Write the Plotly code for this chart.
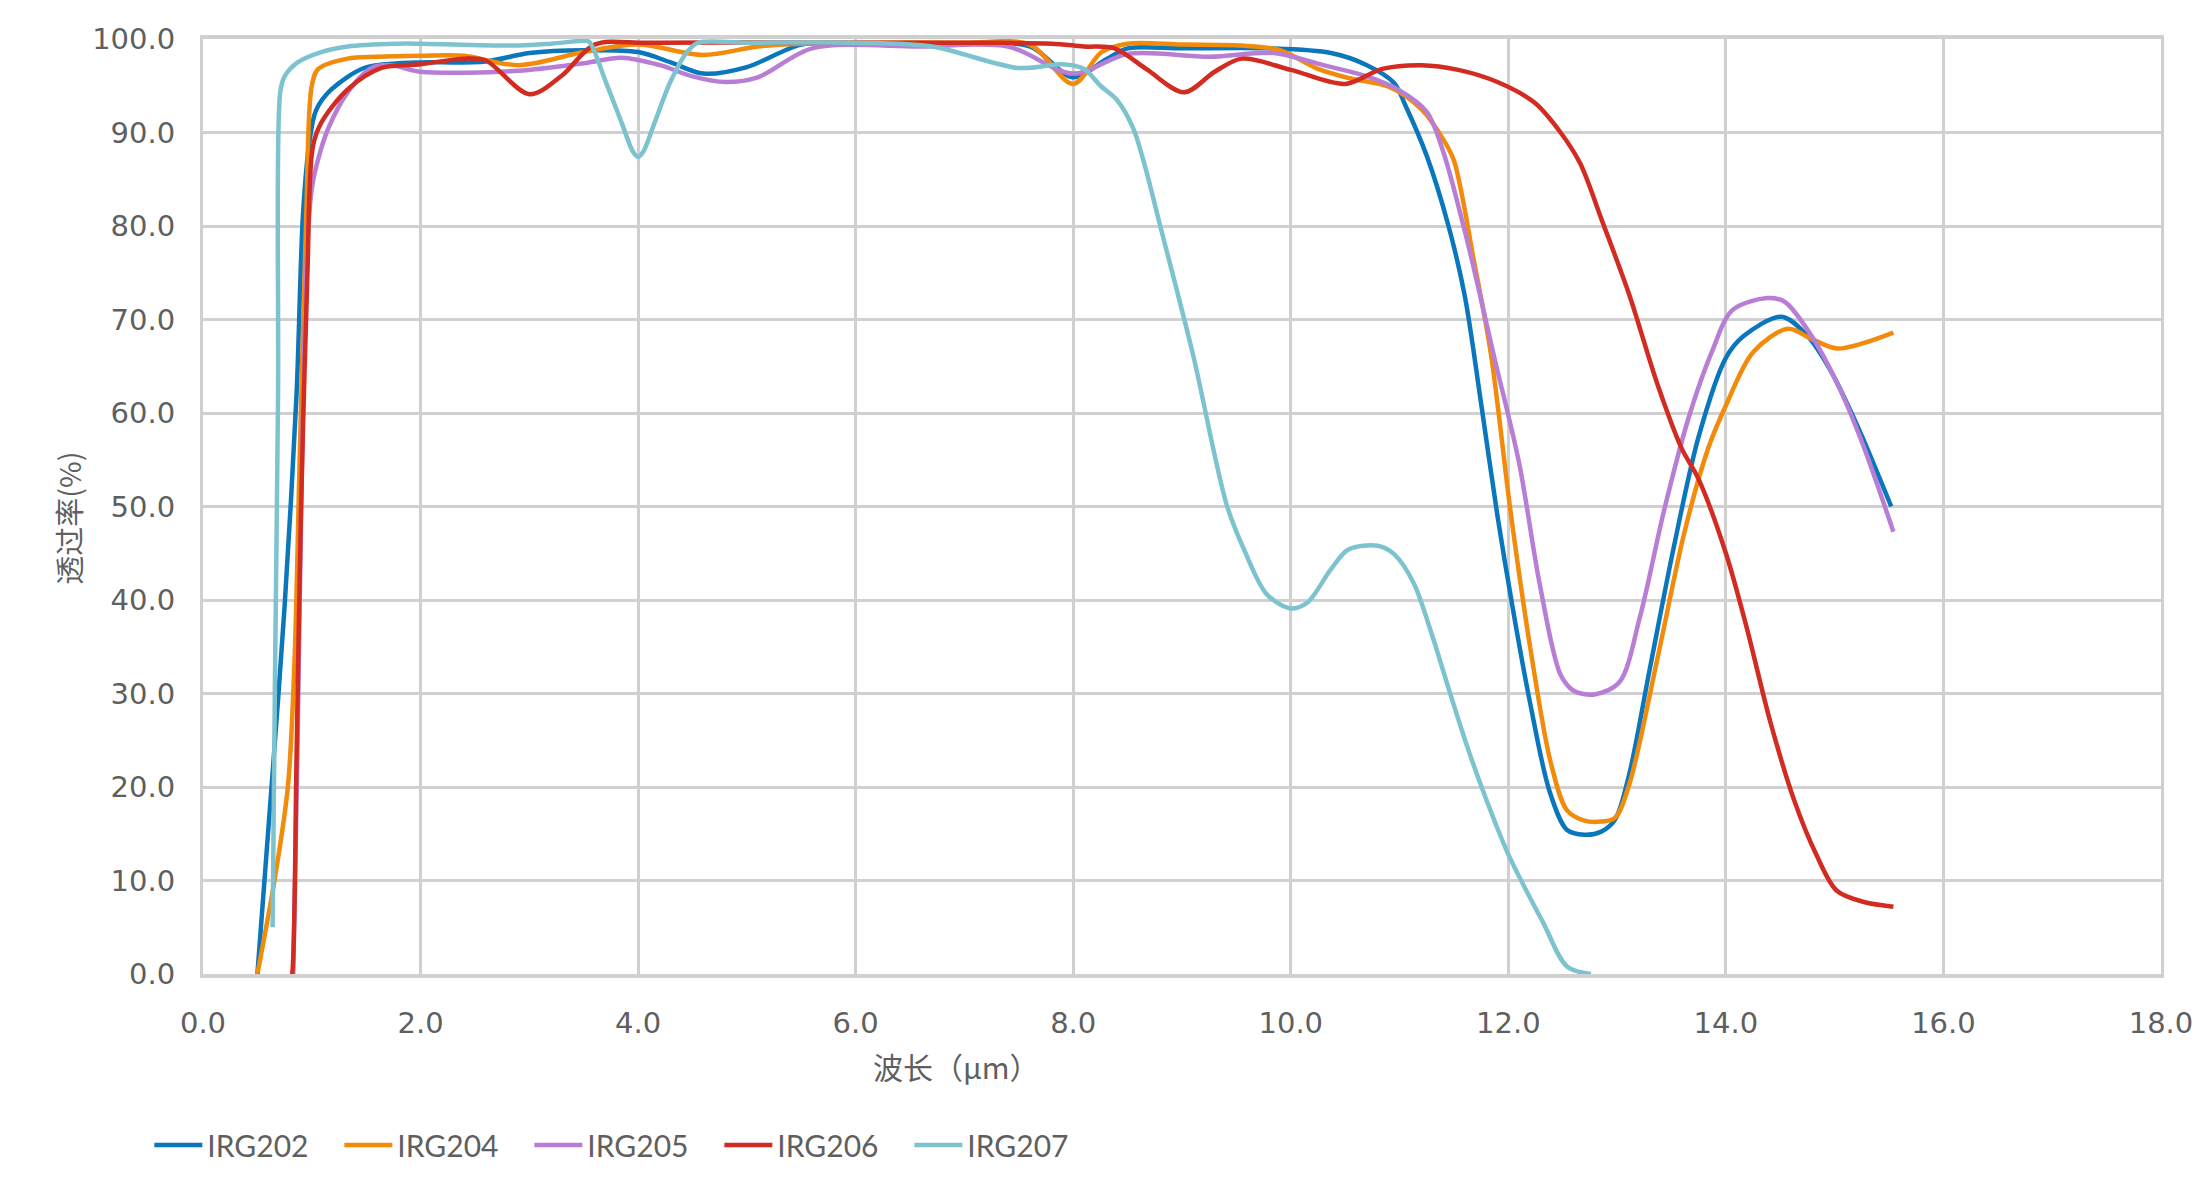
import plotly.graph_objects as go

series_names = ["IRG202", "IRG204", "IRG205", "IRG206", "IRG207"]
series_colors = ["#0A77BD", "#F28A0A", "#B87ED6", "#D22B21", "#7DC3CF"]

irg202_x = [0.50, 0.63, 0.75, 0.86, 0.92, 0.98, 1.04, 1.18, 1.48, 1.8, 2.0, 2.6, 3.0, 3.5, 4.0, 4.3, 4.6, 5.0, 5.5, 6.0,
            7.0, 7.6, 8.0, 8.3, 8.5, 9.0, 9.8, 10.37, 10.7, 10.95, 11.05, 11.25, 11.45, 11.6, 11.75, 11.9, 12.05, 12.2,
            12.38, 12.54, 12.7, 12.85, 12.98, 13.11, 13.3, 13.52, 13.75, 14.0, 14.16, 14.51, 14.73, 14.95, 15.21, 15.52]
irg202_y = [0, 20, 39.3, 62, 81.4, 89.1, 92.4, 94.6, 96.9, 97.4, 97.5, 97.6, 98.5, 98.8, 98.6, 97.5, 96.3, 97.0, 99.4, 99.5,
            99.5, 99.2, 95.9, 97.8, 99.0, 99.0, 99.0, 98.5, 97.2, 95.3, 93.0, 87.5, 80.0, 72.5, 61.0, 49.0, 38.5, 29.0,
            19.5, 15.4, 14.9, 15.2, 16.5, 21.3, 32.6, 45.6, 57.5, 65.9, 68.2, 70.3, 68.5, 64.8, 58.6, 50.0]

irg204_x = [0.50, 0.66, 0.78, 0.84, 0.89, 0.95, 1.0, 1.06, 1.33, 1.6, 2.0, 2.4, 2.9, 3.5, 4.0, 4.6, 5.1, 5.5, 6.0, 7.0,
            7.6, 8.0, 8.26, 8.5, 9.0, 9.55, 9.9, 10.25, 10.54, 10.9, 11.2, 11.4, 11.5, 11.68, 11.84, 12.02, 12.2, 12.39,
            12.54, 12.7, 12.85, 12.98, 13.11, 13.37, 13.62, 13.84, 14.0, 14.25, 14.57, 14.79, 15.02, 15.27, 15.54]
irg204_y = [0, 10.2, 20, 33, 55.6, 81.4, 95.0, 96.8, 97.9, 98.1, 98.2, 98.2, 97.2, 98.6, 99.4, 98.3, 99.2, 99.5, 99.6, 99.6,
            99.4, 95.2, 98.6, 99.5, 99.4, 99.3, 98.8, 96.8, 95.8, 94.9, 92.5, 89.3, 87.0, 76.5, 66.3, 49.5, 35.0, 22.6,
            17.5, 16.4, 16.3, 16.7, 20.2, 33.7, 47.3, 56.3, 60.8, 66.5, 69.0, 67.9, 66.9, 67.5, 68.6]

irg205_x = [0.83, 0.87, 0.91, 0.96, 1.0, 1.06, 1.15, 1.33, 1.55, 1.73, 2.0, 2.9, 3.5, 3.85, 4.2, 4.5, 4.8, 5.1, 5.6, 6.6,
            7.4, 8.0, 8.5, 9.26, 9.84, 10.3, 10.7, 11.0, 11.25, 11.4, 11.62, 11.87, 12.1, 12.29, 12.48, 12.6, 12.79, 13.02,
            13.21, 13.43, 13.65, 13.87, 14.06, 14.38, 14.54, 14.79, 15.05, 15.27, 15.54]
irg205_y = [0, 25, 55, 78, 84.0, 87.2, 90.4, 94.3, 96.9, 97.2, 96.5, 96.6, 97.4, 98.0, 97.2, 96.0, 95.4, 95.9, 99.0, 99.2,
            99.2, 96.3, 98.4, 98.1, 98.5, 97.2, 96.0, 94.5, 92.2, 88.0, 78.5, 66.0, 54.6, 41.6, 32.0, 30.3, 29.9, 31.2,
            38.2, 49.5, 59.2, 66.5, 71.0, 72.3, 71.9, 68.2, 62.5, 56.3, 47.3]

irg206_x = [0.50, 0.55, 0.80, 0.82, 0.86, 0.90, 0.96, 1.01, 1.09, 1.33, 1.64, 2.0, 2.4, 2.6, 3.0, 3.3, 3.6, 4.1, 6.0, 7.2,
            7.8, 8.1, 8.38, 8.67, 9.02, 9.3, 9.55, 10.0, 10.5, 10.84, 11.2, 11.54, 11.9, 12.24, 12.48, 12.66, 12.86, 13.11,
            13.37, 13.59, 13.75, 14.0, 14.19, 14.41, 14.63, 14.83, 15.02, 15.27, 15.54]
irg206_y = [0, -1, -1, 0, 23.2, 49.1, 75.0, 88.5, 91.1, 94.6, 96.9, 97.3, 97.9, 97.7, 94.1, 96.1, 99.4, 99.6, 99.6, 99.6,
            99.5, 99.2, 99.0, 96.8, 94.3, 96.5, 97.9, 96.7, 95.2, 96.8, 97.2, 96.7, 95.4, 93.2, 90.0, 86.7, 80.6, 72.7,
            63.1, 56.3, 52.9, 45.0, 37.1, 26.9, 18.5, 12.8, 8.9, 7.7, 7.2]

irg207_x = [0.64, 0.66, 0.69, 0.71, 0.75, 0.87, 1.06, 1.33, 1.79, 2.0, 2.9, 3.2, 3.5, 3.55, 3.7, 3.85, 3.95, 4.0, 4.05,
            4.15, 4.3, 4.45, 4.55, 5.0, 6.0, 6.7, 7.5, 7.9, 8.1, 8.25, 8.4, 8.55, 8.65, 8.8, 9.1, 9.41, 9.57, 9.78, 10.0,
            10.15, 10.37, 10.53, 10.8, 10.95, 11.13, 11.3, 11.46, 11.62, 11.78, 12.0, 12.32, 12.54, 12.76]
irg207_y = [5, 29.7, 62, 94.3, 96.0, 97.5, 98.5, 99.2, 99.5, 99.5, 99.3, 99.5, 99.8, 99.7, 95.5, 91.0, 88.0, 87.4, 88.0,
            91.0, 95.5, 98.6, 99.6, 99.6, 99.6, 99.2, 96.9, 97.3, 96.8, 95.0, 93.5, 90.5, 86.8, 80.0, 66.3, 50.2, 45.4,
            40.6, 39.1, 39.7, 43.3, 45.4, 45.8, 44.9, 41.8, 36.2, 30.2, 24.4, 19.2, 12.8, 5.5, 0.8, 0.0]

x_ticks = [0, 2, 4, 6, 8, 10, 12, 14, 16, 18]
y_ticks = [0, 10, 20, 30, 40, 50, 60, 70, 80, 90, 100]
x_title = "波长（μm）"
y_title = "透过率(%)"

xs = [irg202_x, irg204_x, irg205_x, irg206_x, irg207_x]
ys = [irg202_y, irg204_y, irg205_y, irg206_y, irg207_y]

TXT = "#5F5F5F"
GRID = "#D0D0D0"
LAT = "Lato, 'Noto Sans', sans-serif"
NUM = "'DejaVu Sans', sans-serif"
CJK = "'Noto Sans CJK SC', sans-serif"

fig = go.Figure()
for name, color, x, y in zip(series_names, series_colors, xs, ys):
    fig.add_trace(go.Scatter(x=x, y=y, mode="lines", name=name,
                             line=dict(color=color, width=4.5, shape="spline", smoothing=0.9)))

fig.update_layout(
    width=2196, height=1186,
    margin=dict(l=195, r=43, t=31, b=220),
    paper_bgcolor="white", plot_bgcolor="white",
    font=dict(family=LAT, size=29, color=TXT),
    showlegend=True,
    legend=dict(orientation="h", x=-0.0274, xanchor="left", y=-0.1829, yanchor="middle",
                font=dict(family=LAT, size=30, color=TXT), entrywidth=127, itemwidth=48),
    annotations=[
        dict(text=y_title, xref="paper", yref="paper", x=-0.0689, y=0.487, xanchor="center", yanchor="middle",
             showarrow=False, textangle=-90, font=dict(family=CJK, size=29, color=TXT)),
        dict(text=x_title, xref="paper", yref="paper", x=0.3848, y=-0.0982, xanchor="center", yanchor="middle",
             showarrow=False, font=dict(family=CJK, size=30, color=TXT)),
    ],
)
fig.update_xaxes(range=[0, 18], tickvals=x_ticks, tickformat=".1f", showgrid=True, gridcolor=GRID, gridwidth=3,
                 zeroline=False, showline=True, linecolor=GRID, linewidth=4, mirror=True,
                 ticks="", ticklabelstandoff=20, tickfont=dict(family=NUM, size=29, color=TXT))
fig.update_yaxes(range=[0, 100], tickvals=y_ticks, tickformat=".1f", showgrid=True, gridcolor=GRID, gridwidth=3,
                 zeroline=False, showline=True, linecolor=GRID, linewidth=3, mirror=True,
                 ticks="", ticklabelstandoff=19, tickfont=dict(family=NUM, size=29, color=TXT))

fig.write_html("out.html")
